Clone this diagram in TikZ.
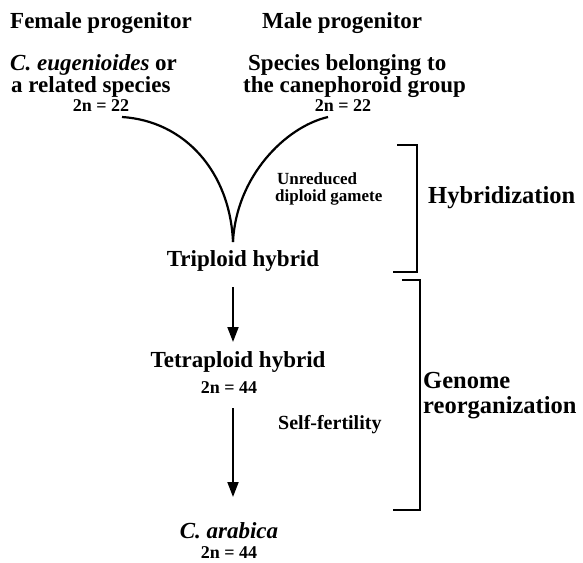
\documentclass[tikz,border=0pt]{standalone}
\usepackage{fontspec}
\setmainfont{Liberation Serif}
\usetikzlibrary{arrows.meta}
\begin{document}
\begin{tikzpicture}[x=1pt,y=-1pt,
  big/.style={font=\bfseries\fontsize{23}{19}\selectfont, inner sep=0pt, align=center},
  right/.style={font=\bfseries\fontsize{24.5}{25}\selectfont, inner sep=0pt, align=left},
  num/.style={font=\bfseries\fontsize{18}{18}\selectfont, inner sep=0pt, align=center},
  small/.style={font=\bfseries\fontsize{17}{16.5}\selectfont, inner sep=0pt, align=left},
  line/.style={line width=2.2pt},
  brk/.style={line width=1.7pt},
  arr/.style={line width=1.9pt, -{Triangle[length=15pt,width=11pt]}}]
\useasboundingbox (0,0) rectangle (583,562);
\node[big, anchor=west] (fem) at (10,23) {Female progenitor};
\node[big, anchor=west] (male) at (262,23) {Male progenitor};
\node[big, anchor=west, align=left] (ceu) at (10,76) {\textit{C. eugenioides} or\\\hspace*{1pt}a related species};
\node[num] (f22) at (101,106) {2n = 22};
\node[big, anchor=west, align=left] (spec) at (243,76) {\hspace*{5pt}Species belonging to\\the canephoroid group};
\node[num] (m22) at (343,106) {2n = 22};
\coordinate (lstart) at (122,117);
\coordinate (rstart) at (328,117);
\coordinate (cusp) at (233,242);
\node[small, anchor=west] (gam) at (275,189) {\hspace*{2pt}Unreduced\\diploid gamete};
\node[big] (trip) at (243,261) {Triploid hybrid};
\node[right, anchor=west] (hyb) at (428,198) {Hybridization};
\node[big] (tetra) at (238,362) {Tetraploid hybrid};
\node[num] (t44) at (229,388) {2n = 44};
\node[small, font=\bfseries\fontsize{20}{20}\selectfont, anchor=west] (self) at (278,425) {Self-fertility};
\node[right, anchor=west] (gen) at (423,396) {Genome\\reorganization};
\node[big] (arab) at (229,531) {\textit{C. arabica}};
\node[num] (a44) at (229,553) {2n = 44};
\draw[line] (lstart) .. controls (185,121) and (230,172) .. (cusp);
\draw[line] (rstart) .. controls (285,127) and (236,177) .. (cusp);
\coordinate (b1a) at (397,145);
\coordinate (b1b) at (393,272);
\draw[brk] (b1a) -- (417,145) -- (417,272) -- (b1b);
\coordinate (b2a) at (402,280);
\coordinate (b2b) at (393,510);
\draw[brk] (b2a) -- (420,280) -- (420,510) -- (b2b);
\draw[arr] (233,287) -- (233,342);
\draw[arr] (233,408) -- (233,497);
\end{tikzpicture}
\end{document}
